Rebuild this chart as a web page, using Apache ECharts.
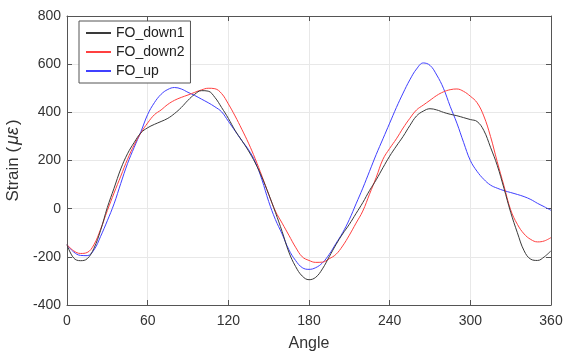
<!DOCTYPE html>
<html>
<head>
<meta charset="utf-8">
<script src="https://cdn.jsdelivr.net/npm/echarts@6/dist/echarts.min.js"></script>
<style>html,body{margin:0;padding:0;background:#fff;}#c{width:564px;height:358px;}</style>
</head>
<body>
<div id="c"></div>
<script>
const angles = [0,5,10,15,20,25,30,35,40,45,50,55,60,65,70,75,80,85,90,95,100,105,110,115,120,125,130,135,140,145,150,155,160,165,170,175,180,185,190,195,200,205,210,215,220,225,230,235,240,245,250,255,260,265,270,275,280,285,290,295,300,305,310,315,320,325,330,335,340,345,350,355,360];
const foDown1 = [-150,-205,-216,-208,-165,-90,5,85,165,228,275,315,336,350,362,375,395,420,450,475,490,488,462,420,375,325,283,240,190,130,60,-15,-95,-180,-240,-280,-295,-285,-250,-200,-150,-105,-65,-20,25,75,120,170,218,260,300,345,385,405,415,410,400,392,386,378,370,362,325,255,180,85,-15,-100,-175,-210,-215,-200,-175];
const foDown2 = [-150,-175,-186,-182,-150,-85,-8,65,135,205,265,315,356,390,410,433,450,462,472,483,493,500,498,478,435,385,330,272,207,135,60,-10,-60,-110,-160,-200,-215,-223,-222,-208,-190,-155,-110,-60,-10,60,130,205,250,290,335,375,410,430,450,470,485,494,497,487,467,440,385,300,195,95,-5,-65,-105,-128,-138,-134,-120];
const foUp = [-150,-180,-194,-195,-172,-115,-50,20,105,187,255,320,391,440,475,495,503,497,483,470,455,440,423,402,363,323,283,245,195,120,30,-45,-105,-170,-215,-245,-252,-245,-225,-190,-145,-100,-45,20,85,155,225,290,355,420,480,535,580,605,595,555,500,425,355,275,200,155,122,98,85,75,67,59,50,38,22,8,-7];
const seriesNames = ['FO_down1','FO_down2','FO_up'];
const xTicks = {min: 0, max: 360, interval: 60};
const yTicks = {min: -400, max: 800, interval: 200};

const FONT = '"Liberation Sans", Arial, Helvetica, sans-serif';
const colors = ['#3a3a3a','#ff4040','#4040ff'];
const allVals = [foDown1, foDown2, foUp];

const chart = echarts.init(document.getElementById('c'), null, {renderer:'canvas'});
const axisCommonX = {
  type:'value', min:xTicks.min, max:xTicks.max, interval:xTicks.interval
};
const axisCommonY = {
  type:'value', min:yTicks.min, max:yTicks.max, interval:yTicks.interval
};
chart.setOption({
  animation:false,
  backgroundColor:'#fff',
  grid:{left:67, right:13, top:16, bottom:53, containLabel:false, outerBoundsMode:'none'},
  legend:{
    orient:'vertical', left:79, top:21,
    padding:[5,6,5,6], itemGap:5, itemWidth:25, itemHeight:14,
    backgroundColor:'#fff', borderColor:'#555', borderWidth:1,
    itemStyle:{opacity:0},
    textStyle:{fontFamily:FONT, fontSize:14, color:'#222'},
    data: seriesNames
  },
  xAxis:[
    Object.assign({}, axisCommonX, {
      position:'bottom',
      name:'Angle', nameLocation:'middle', nameGap:31,
      nameTextStyle:{fontFamily:FONT, fontSize:16, color:'#333'},
      axisLine:{show:true, onZero:false, lineStyle:{color:'#555', width:1}},
      axisTick:{show:true, inside:true, length:5, lineStyle:{color:'#555'}},
      axisLabel:{fontFamily:FONT, fontSize:14, color:'#333', margin:9},
      splitLine:{show:true, lineStyle:{color:'#e8e8e8', width:1}}
    }),
    Object.assign({}, axisCommonX, {
      position:'top',
      axisLine:{show:true, onZero:false, lineStyle:{color:'#555', width:1}},
      axisTick:{show:true, inside:true, length:5, lineStyle:{color:'#555'}},
      axisLabel:{show:false}, splitLine:{show:false}
    })
  ],
  yAxis:[
    Object.assign({}, axisCommonY, {
      position:'left',
      name:'{a|Strain (}{b|με}{a|)}', nameLocation:'middle', nameGap:34,
      nameTextStyle:{fontFamily:FONT, fontSize:16, color:'#333',
        rich:{a:{fontFamily:FONT, fontSize:17, color:'#333'}, b:{fontFamily:FONT, fontSize:18, fontStyle:'italic', color:'#333', padding:[0,2,0,2]}}},
      axisLine:{show:true, onZero:false, lineStyle:{color:'#555', width:1}},
      axisTick:{show:true, inside:true, length:5, lineStyle:{color:'#555'}},
      axisLabel:{fontFamily:FONT, fontSize:14, color:'#333', margin:6},
      splitLine:{show:true, lineStyle:{color:'#e8e8e8', width:1}}
    }),
    Object.assign({}, axisCommonY, {
      position:'right',
      axisLine:{show:true, onZero:false, lineStyle:{color:'#555', width:1}},
      axisTick:{show:true, inside:true, length:5, lineStyle:{color:'#555'}},
      axisLabel:{show:false}, splitLine:{show:false}
    })
  ],
  series: seriesNames.map((name, i) => ({
    name: name, type:'line', xAxisIndex:0, yAxisIndex:0,
    data: angles.map((a, j) => [a, allVals[i][j]]),
    smooth:0.4, symbol:'none', showSymbol:false,
    lineStyle:{color:colors[i], width:1},
    itemStyle:{color:colors[i]},
    z: 3 - i
  }))
});
</script>
</body>
</html>
